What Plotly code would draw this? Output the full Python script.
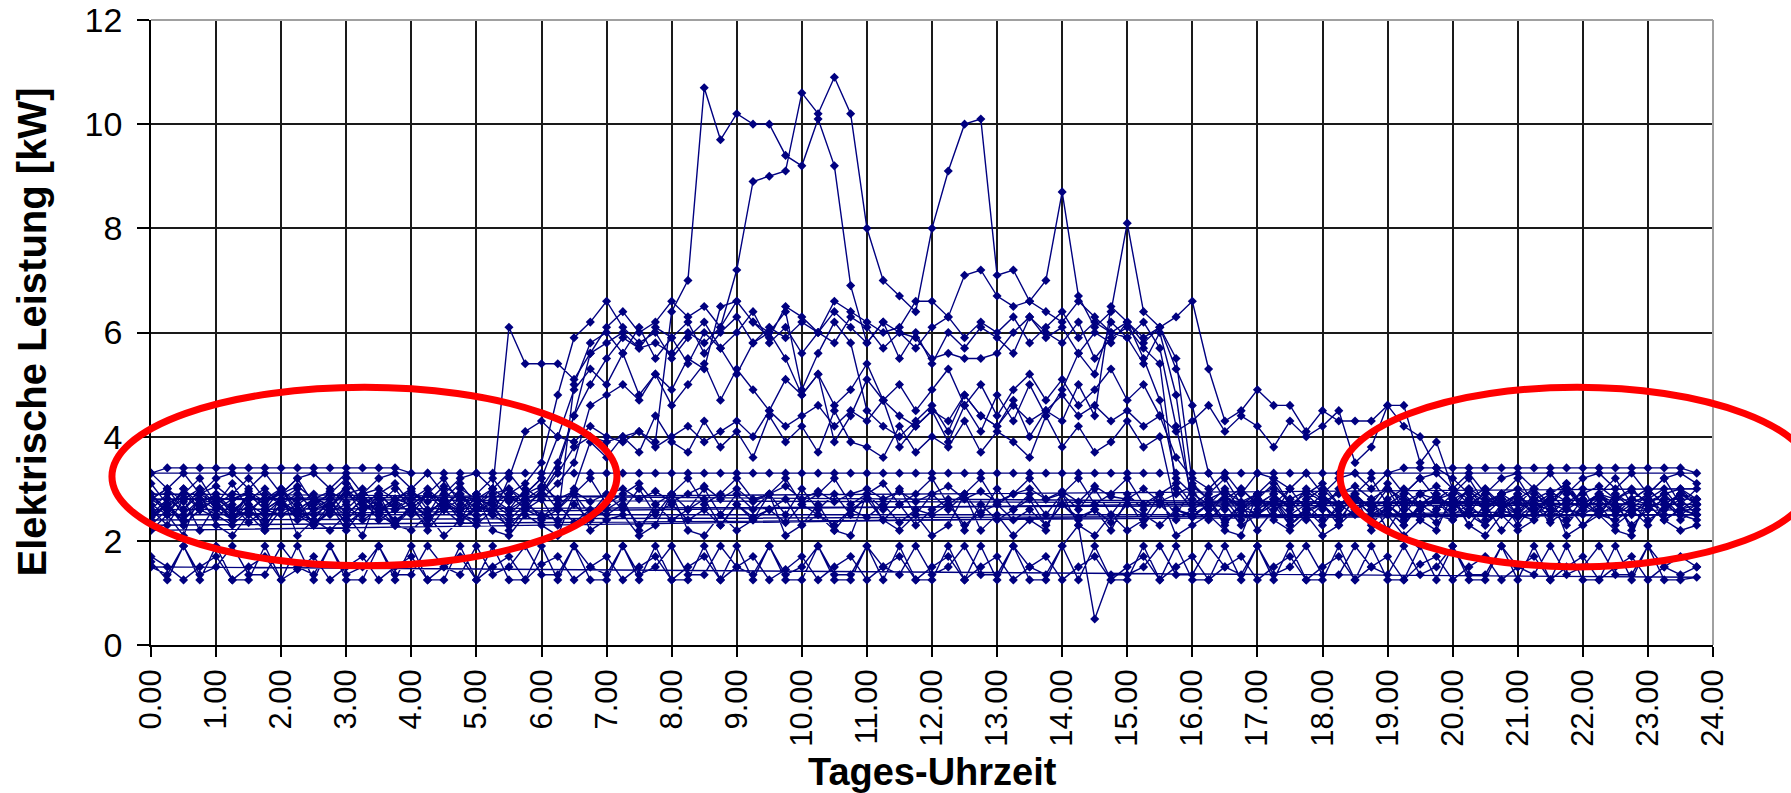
import plotly.graph_objects as go

# ---- x positions (15-minute steps) and axis tick labels ----
TIMES = [
    0.0, 0.25, 0.5, 0.75, 1.0, 1.25, 1.5, 1.75, 2.0, 2.25, 2.5, 2.75,
    3.0, 3.25, 3.5, 3.75, 4.0, 4.25, 4.5, 4.75, 5.0, 5.25, 5.5, 5.75,
    6.0, 6.25, 6.5, 6.75, 7.0, 7.25, 7.5, 7.75, 8.0, 8.25, 8.5, 8.75,
    9.0, 9.25, 9.5, 9.75, 10.0, 10.25, 10.5, 10.75, 11.0, 11.25, 11.5, 11.75,
    12.0, 12.25, 12.5, 12.75, 13.0, 13.25, 13.5, 13.75, 14.0, 14.25, 14.5, 14.75,
    15.0, 15.25, 15.5, 15.75, 16.0, 16.25, 16.5, 16.75, 17.0, 17.25, 17.5, 17.75,
    18.0, 18.25, 18.5, 18.75, 19.0, 19.25, 19.5, 19.75, 20.0, 20.25, 20.5, 20.75,
    21.0, 21.25, 21.5, 21.75, 22.0, 22.25, 22.5, 22.75, 23.0, 23.25, 23.5, 23.75,
]
X_TICKS = [0, 1, 2, 3, 4, 5, 6, 7, 8, 9, 10, 11, 12, 13, 14, 15, 16, 17, 18, 19, 20, 21, 22, 23, 24]
X_TICK_TEXT = ["0.00", "1.00", "2.00", "3.00", "4.00", "5.00", "6.00", "7.00", "8.00", "9.00",
               "10.00", "11.00", "12.00", "13.00", "14.00", "15.00", "16.00", "17.00", "18.00",
               "19.00", "20.00", "21.00", "22.00", "23.00", "24.00"]
Y_TICKS = [0, 2, 4, 6, 8, 10, 12]

# ---- daily load profiles [kW], 96 values each ----
L1 = [1.6,1.25,1.9,1.25, 1.9,1.25,1.25,1.9, 1.25,1.9,1.25,1.9, 1.25,1.25,1.9,1.25,
      1.9,1.25,1.25,1.9, 1.25,1.9,1.25,1.25, 1.9,1.25,1.9,1.25, 1.25,1.9,1.25,1.9,
      1.25,1.25,1.9,1.25, 1.9,1.25,1.9,1.25, 1.25,1.9,1.25,1.25, 1.9,1.25,1.9,1.25,
      1.25,1.9,1.25,1.9, 1.25,1.9,1.25,1.25, 1.9,1.25,1.9,1.25, 1.25,1.9,1.25,1.9,
      1.25,1.25,1.9,1.25, 1.9,1.25,1.9,1.25, 1.25,1.9,1.25,1.9, 1.25,1.25,1.9,1.25,
      1.9,1.25,1.25,1.9, 1.25,1.9,1.25,1.9, 1.25,1.25,1.9,1.25, 1.9,1.25,1.25,1.3]
L2 = [1.7,1.5,1.25,1.5, 1.7,1.25,1.5,1.7, 1.25,1.45,1.7,1.25, 1.5,1.7,1.25,1.5,
      1.7,1.25,1.5,1.7, 1.25,1.5,1.7,1.25, 1.55,1.7,1.25,1.5, 1.7,1.25,1.5,1.7,
      1.25,1.5,1.7,1.25, 1.5,1.7,1.25,1.45, 1.7,1.25,1.5,1.7, 1.25,1.5,1.7,1.25,
      1.5,1.7,1.25,1.5, 1.7,1.25,1.5,1.7, 1.25,1.5,1.7,1.25, 1.5,1.7,1.25,1.5,
      1.7,1.25,1.5,1.7, 1.25,1.5,1.7,1.25, 1.5,1.7,1.25,1.5, 1.7,1.25,1.55,1.7,
      1.25,1.5,1.7,1.25, 1.5,1.7,1.25,1.5, 1.7,1.25,1.5,1.7, 1.25,1.5,1.7,1.5]
L3 = [1.5,1.35,1.9,1.35, 1.5,1.9,1.35,1.35, 1.9,1.5,1.35,1.9, 1.35,1.5,1.9,1.35,
      1.35,1.9,1.5,1.35, 1.9,1.35,1.5,1.9, 1.35,1.35,1.9,1.5, 1.35,1.9,1.35,1.5,
      1.9,1.35,1.35,1.9, 1.5,1.35,1.9,1.35, 1.5,1.9,1.35,1.35, 1.9,1.5,1.35,1.9,
      1.35,1.5,1.9,1.35, 1.35,1.9,1.5,1.35, 1.9,2.3,0.5,1.35, 1.35,1.5,1.9,1.35,
      1.35,1.9,1.5,1.35, 1.9,1.35,1.5,1.9, 1.35,1.35,1.9,1.5, 1.35,1.9,1.35,1.5,
      1.9,1.35,1.35,1.9, 1.5,1.35,1.9,1.35, 1.5,1.9,1.35,1.35, 1.9,1.5,1.35,1.5]
B1 = [3.3,3.4,3.4,3.4, 3.4,3.4,3.4,3.4, 3.4,3.4,3.4,3.4, 3.4,3.4,3.4,3.4,
      3.3,3.3,3.3,3.3, 3.3,3.3,3.3,3.3, 3.3,3.3,3.3,3.3, 3.3,3.3,3.3,3.3,
      3.3,3.3,3.3,3.3, 3.3,3.3,3.3,3.3, 3.3,3.3,3.3,3.3, 3.3,3.3,3.3,3.3,
      3.3,3.3,3.3,3.3, 3.3,3.3,3.3,3.3, 3.3,3.3,3.3,3.3, 3.3,3.3,3.3,3.3,
      3.3,3.3,3.3,3.3, 3.3,3.3,3.3,3.3, 3.3,3.3,3.3,3.3, 3.3,3.4,3.4,3.4,
      3.4,3.4,3.4,3.4, 3.4,3.4,3.4,3.4, 3.4,3.4,3.4,3.4, 3.4,3.4,3.4,3.3]
B2 = [2.9,2.5,3.0,2.6, 2.9,2.5,2.9,2.6, 3.0,2.5,2.8,2.6, 3.0,2.5,2.9,2.6,
      2.9,2.5,3.0,2.6, 2.9,2.5,2.9,2.6, 3.0,2.6,2.9,2.5, 2.9,2.6,3.0,2.5,
      2.9,2.6,3.0,2.5, 2.9,2.6,2.9,2.5, 3.0,2.6,2.9,2.5, 2.9,2.6,3.0,2.5,
      2.9,2.6,2.9,2.5, 3.0,2.6,2.9,2.5, 2.9,2.6,3.0,2.5, 2.9,2.6,2.9,2.5,
      3.0,2.5,2.9,2.6, 2.9,2.5,3.0,2.6, 2.9,2.5,2.9,2.6, 3.0,2.5,2.9,2.6,
      2.9,2.5,3.0,2.6, 2.9,2.5,2.9,2.6, 3.0,2.5,2.9,2.6, 2.9,2.5,3.0,2.7]
B3 = [2.6,2.3,2.8,2.2, 2.7,2.4,2.8,2.2, 2.6,2.8,2.3,2.7, 2.2,2.6,2.8,2.3,
      2.7,2.2,2.6,2.8, 2.4,2.7,2.2,2.6, 2.8,2.3,2.7,2.4, 2.6,2.8,2.2,2.7,
      2.4,2.6,2.8,2.3, 2.7,2.4,2.6,2.8, 2.3,2.7,2.2,2.6, 2.8,2.4,2.7,2.3,
      2.6,2.8,2.2,2.7, 2.4,2.6,2.8,2.3, 2.7,2.4,2.6,2.2, 2.8,2.3,2.7,2.4,
      2.6,2.8,2.3,2.7, 2.2,2.6,2.8,2.4, 2.7,2.3,2.6,2.8, 2.2,2.7,2.4,2.6,
      2.8,2.3,2.7,2.2, 2.6,2.8,2.4,2.7, 2.3,2.6,2.8,2.2, 2.7,2.4,2.6,2.5]
B4 = [3.1,2.7,2.9,3.2, 2.7,2.9,3.2,2.8, 2.9,3.2,2.7,2.9, 3.2,2.7,2.9,3.1,
      2.7,2.9,3.2,2.7, 2.9,3.2,2.8,2.9, 3.2,2.7,2.9,3.2, 2.7,2.9,3.1,2.7,
      2.9,3.2,2.7,2.9, 3.2,2.8,2.9,3.2, 2.7,2.9,3.2,2.7, 2.9,3.1,2.7,2.9,
      3.2,2.7,2.9,3.2, 2.7,2.9,3.2,2.8, 2.9,3.2,2.7,2.9, 3.2,2.7,2.9,3.1,
      2.7,2.9,3.2,2.7, 2.9,3.2,2.7,2.9, 3.1,2.7,2.9,3.2, 2.7,2.9,3.2,2.8,
      2.9,3.2,2.7,2.9, 3.2,2.7,2.9,3.1, 2.7,2.9,3.2,2.7, 2.9,3.2,2.7,3.0]
B5 = [2.45,2.7,2.3,2.6, 2.45,2.7,2.35,2.6, 2.5,2.7,2.3,2.55, 2.7,2.4,2.6,2.3,
      2.7,2.45,2.6,2.35, 2.7,2.5,2.3,2.6, 2.45,2.7,2.35,2.6, 2.5,2.7,2.3,2.55,
      2.7,2.4,2.6,2.3, 2.7,2.45,2.6,2.35, 2.7,2.5,2.3,2.6, 2.45,2.7,2.35,2.6,
      2.5,2.7,2.3,2.55, 2.7,2.4,2.6,2.3, 2.7,2.45,2.6,2.35, 2.7,2.5,2.3,2.6,
      2.45,2.7,2.35,2.6, 2.5,2.7,2.3,2.55, 2.7,2.4,2.6,2.3, 2.7,2.45,2.6,2.35,
      2.7,2.5,2.3,2.6, 2.45,2.7,2.35,2.6, 2.5,2.7,2.3,2.55, 2.7,2.4,2.6,2.5]
B6 = [2.8,3.0,2.75,2.9, 3.05,2.8,2.95,2.75, 2.9,3.05,2.8,2.95, 2.75,2.9,3.0,2.8,
      2.95,2.75,3.05,2.85, 2.8,3.0,2.75,2.9, 3.05,2.8,2.95,2.75, 2.9,3.0,2.8,2.95,
      2.75,2.9,3.05,2.8, 3.0,2.75,2.9,3.05, 2.8,2.95,2.75,2.9, 3.0,2.8,2.95,2.75,
      2.9,3.05,2.8,2.95, 2.75,2.9,3.0,2.8, 2.95,2.75,3.05,2.85, 2.8,3.0,2.75,2.9,
      3.05,2.8,2.95,2.75, 2.9,3.0,2.8,2.95, 2.75,2.9,3.05,2.8, 3.0,2.75,2.9,3.05,
      2.8,2.95,2.75,2.9, 3.0,2.8,2.95,2.75, 2.9,3.05,2.8,2.95, 2.75,2.9,3.0,2.8]
B7 = [2.2,2.5,2.1,2.9, 2.3,2.1,2.5,2.2, 2.9,2.1,2.4,2.2, 2.5,2.1,2.9,2.3,
      2.2,2.5,2.1,2.4, 2.9,2.2,2.1,2.5, 2.3,2.1,2.9,2.2, 2.4,2.5,2.1,2.3,
      2.9,2.2,2.1,2.5, 2.2,2.4,2.9,2.1, 2.3,2.5,2.2,2.1, 2.9,2.4,2.2,2.5,
      2.1,2.3,2.9,2.2, 2.5,2.1,2.4,2.2, 2.9,2.3,2.1,2.5, 2.2,2.4,2.9,2.1,
      2.3,2.5,2.2,2.1, 2.9,2.4,2.2,2.5, 2.1,2.3,2.9,2.2, 2.5,2.1,2.4,2.2,
      2.9,2.3,2.1,2.5, 2.2,2.4,2.9,2.1, 2.3,2.5,2.2,2.1, 2.9,2.4,2.2,2.3]
D1 = [2.6,2.9,2.5,2.8, 2.7,2.4,2.9,2.6, 2.8,2.5,2.7,2.9, 2.5,2.8,2.6,2.7,
      2.9,2.5,2.8,2.6, 2.7,3.0,6.1,5.4, 5.4,5.4,5.1,5.6, 5.8,6.0,5.7,6.1,
      5.9,6.2,5.6,6.0, 6.3,5.8,6.1,5.9, 6.2,6.0,6.4,6.1, 5.8,6.2,6.0,5.7,
      6.1,6.3,5.9,6.2, 6.0,6.3,5.8,6.1, 6.4,5.9,6.2,6.0, 5.9,6.2,5.7,4.2,
      2.8,2.6,2.9,2.5, 2.8,2.7,3.0,2.6, 2.9,2.6,2.8,2.7, 2.5,2.9,2.6,2.8,
      2.7,3.0,2.6,2.9, 2.5,2.8,2.7,3.0, 2.6,2.9,2.5,2.8, 2.7,2.6,2.9,2.7]
D2 = [2.4,2.7,2.3,2.6, 2.8,2.4,2.6,2.3, 2.7,2.5,2.4,2.8, 2.3,2.6,2.7,2.4,
      2.6,2.3,2.8,2.5, 2.4,2.7,2.6,2.8, 2.9,3.3,3.8,4.0, 3.9,4.0,4.1,3.9,
      6.4,7.0,10.7,9.7, 10.2,10.0,10.0,9.4, 9.2,10.1,9.2,6.9, 5.8,6.2,5.5,6.0,
      5.4,6.0,5.7,6.1, 5.9,5.6,6.3,6.0, 5.8,6.2,5.5,5.9, 6.1,5.7,5.4,3.0,
      2.6,2.8,2.4,2.7, 2.5,2.8,2.3,2.6, 2.7,2.4,2.8,2.5, 2.6,2.3,2.7,2.8,
      2.4,2.6,2.5,2.8, 2.3,2.7,2.6,2.4, 2.8,2.5,2.7,2.3, 2.6,2.8,2.4,2.6]
D3 = [2.8,3.0,2.6,2.9, 2.7,3.1,2.6,2.8, 3.0,2.7,2.9,2.6, 3.1,2.8,2.7,3.0,
      2.6,2.9,2.8,3.1, 2.7,2.9,3.0,2.8, 3.0,3.5,4.4,5.0, 5.5,5.9,5.7,5.8,
      5.6,6.0,5.8,6.1, 7.2,8.9,9.0,9.1, 10.6,10.2,10.9,10.2, 8.0,7.0,6.7,6.4,
      8.0,9.1,10.0,10.1, 7.1,7.2,6.6,6.4, 6.2,6.6,6.3,6.0, 6.2,5.5,4.7,3.2,
      2.9,2.7,3.0,2.6, 2.8,3.1,2.7,2.9, 2.6,3.0,2.8,2.7, 3.1,2.6,2.9,2.8,
      3.0,2.7,2.9,2.6, 2.8,3.0,2.7,3.1, 2.6,2.9,2.8,3.0, 2.7,2.9,2.6,2.8]
D4 = [2.5,2.8,2.6,3.0, 2.7,2.5,2.9,2.6, 2.8,3.0,2.5,2.7, 2.6,2.9,2.5,2.8,
      3.0,2.6,2.7,2.9, 2.5,2.8,2.6,3.0, 2.8,3.1,3.5,4.6, 4.8,5.0,4.7,5.2,
      4.9,5.5,5.3,6.5, 6.6,6.2,5.9,6.5, 6.3,6.0,6.6,6.4, 6.2,6.0,6.1,6.6,
      6.6,6.3,7.1,7.2, 6.7,6.5,6.6,7.0, 8.7,6.7,6.1,6.4, 8.1,6.4,6.1,6.3,
      6.6,5.3,4.3,4.5, 4.9,4.6,4.6,4.1, 4.5,4.3,4.3,4.3, 4.6,4.6,3.5,3.9,
      3.0,2.8,2.6,2.9, 2.7,3.0,2.5,2.8, 2.6,2.9,2.7,2.5, 2.8,3.0,2.6,2.7]
D5 = [2.7,2.5,2.9,2.6, 2.8,2.6,2.5,2.9, 2.7,2.6,2.8,2.5, 2.9,2.7,2.6,2.8,
      2.5,2.9,2.7,2.6, 2.8,2.5,3.2,4.1, 4.3,4.0,3.9,4.2, 4.0,3.9,4.1,3.8,
      4.0,4.2,3.9,4.1, 4.3,4.0,4.5,4.2, 4.4,4.6,4.2,4.5, 4.3,4.7,4.4,4.2,
      4.5,4.3,4.8,4.4, 4.2,4.6,4.3,4.5, 4.8,4.4,4.6,4.3, 4.5,4.2,4.4,4.1,
      4.3,4.6,4.1,4.4, 4.2,3.8,4.3,4.0, 4.2,4.5,3.5,3.8, 4.6,4.2,4.0,3.4,
      3.2,2.9,2.6,2.8, 2.5,2.9,2.7,2.6, 2.8,2.5,2.9,2.7, 2.6,2.8,2.5,2.7]
D6 = [2.9,2.6,2.8,3.0, 2.6,2.8,2.9,2.7, 3.0,2.6,2.8,2.7, 2.9,3.0,2.6,2.8,
      2.7,2.9,2.6,3.0, 2.8,2.7,2.9,3.1, 3.5,4.8,5.9,6.2, 6.6,6.1,5.8,6.0,
      5.5,5.9,6.2,5.7, 6.0,6.4,5.8,6.1, 5.6,6.0,5.8,6.3, 6.1,5.7,6.0,5.9,
      5.5,5.6,5.5,5.5, 5.6,6.0,6.3,5.9, 6.1,5.6,6.0,5.8, 6.2,5.9,6.1,5.3,
      4.6,3.3,2.8,3.0, 2.7,2.9,2.6,3.0, 2.8,2.7,2.9,2.6, 3.0,2.8,2.7,2.9,
      2.6,3.0,2.8,2.7, 2.9,2.6,2.8,3.0, 2.7,2.9,2.6,2.8, 3.0,2.7,2.9,2.8]
D7 = [3.3,3.0,3.3,2.9, 3.2,3.3,3.0,3.3, 2.9,3.2,3.3,3.0, 3.3,2.9,3.2,3.3,
      3.0,3.3,2.9,3.2, 3.3,3.0,3.3,2.9, 3.2,4.0,4.9,5.3, 5.0,5.6,4.8,5.2,
      4.6,5.0,5.4,4.7, 5.3,4.9,4.5,5.1, 4.8,5.2,4.6,4.9, 5.4,4.7,5.0,4.5,
      4.9,5.3,4.6,5.0, 4.4,4.9,5.2,4.7, 5.1,4.6,4.9,5.3, 4.7,5.0,4.4,3.6,
      3.2,3.0,3.3,2.9, 3.3,3.2,3.0,3.3, 2.9,3.2,3.3,3.0, 3.3,2.9,3.2,3.3,
      3.0,3.3,2.9,3.2, 3.3,3.0,3.3,2.9, 3.2,3.3,3.0,3.3, 2.9,3.2,3.3,3.1]
D8 = [2.5,2.7,2.4,2.8, 2.6,2.4,2.7,2.5, 2.8,2.4,2.6,2.7, 2.5,2.8,2.4,2.6,
      2.7,2.5,2.8,2.4, 2.6,2.7,2.5,2.8, 2.4,2.6,3.0,3.9, 3.6,4.0,3.7,4.4,
      3.9,3.7,4.3,3.8, 4.1,3.6,4.4,3.9, 4.2,3.7,4.5,3.9, 3.8,3.6,4.2,3.7,
      4.0,3.8,4.3,3.7, 4.1,3.9,3.6,4.4, 3.8,4.2,3.7,3.9, 4.3,3.8,4.0,2.6,
      2.5,2.7,2.8,2.4, 2.6,2.8,2.5,2.7, 2.4,2.6,2.8,2.5, 2.7,2.4,2.6,2.8,
      2.5,2.7,2.4,2.6, 2.8,2.5,2.7,2.4, 2.6,2.8,2.5,2.7, 2.4,2.6,2.8,2.5]
D9 = [2.8,2.6,3.0,2.7, 2.9,2.6,2.8,3.0, 2.7,2.9,2.6,2.8, 3.0,2.7,2.9,2.6,
      2.8,3.0,2.7,2.9, 2.6,2.8,3.0,2.7, 2.9,3.4,4.4,5.6, 6.1,6.4,6.0,6.2,
      6.6,6.3,6.5,6.1, 6.6,6.2,6.0,6.4, 4.9,5.6,6.2,5.8, 4.5,4.2,4.0,4.3,
      4.6,4.1,4.8,4.4, 4.2,4.7,4.0,4.5, 4.3,5.0,4.4,6.5, 6.2,5.8,6.1,5.5,
      3.1,2.8,2.6,3.0, 2.7,2.9,2.6,2.8, 3.0,2.7,2.9,2.6, 2.8,3.0,2.7,2.9,
      2.6,2.8,3.0,2.7, 2.9,2.6,2.8,3.0, 2.7,2.9,2.6,2.8, 3.0,2.7,2.9,2.7]
D10 = [2.3,2.6,2.4,2.7, 2.5,2.3,2.6,2.4, 2.7,2.5,2.3,2.6, 2.4,2.7,2.5,2.3,
       2.6,2.4,2.7,2.5, 2.3,2.6,2.4,2.7, 2.5,2.4,5.0,5.8, 6.0,5.6,6.1,5.5,
       5.9,5.4,6.0,5.7, 5.2,5.8,6.0,5.5, 4.8,5.2,3.9,4.4, 5.1,4.7,3.8,4.2,
       4.5,3.9,4.6,4.1, 4.8,4.3,5.0,4.4, 4.9,5.6,5.2,6.2, 5.9,5.4,6.0,4.8,
       2.6,2.4,2.7,2.3, 2.5,2.8,2.4,2.6, 2.3,2.7,2.5,2.4, 2.6,2.3,2.7,2.5,
       2.4,2.6,2.3,2.7, 2.5,2.4,2.6,2.3, 2.7,2.5,2.4,2.6, 2.3,2.7,2.5,2.4]

# consecutive measuring days plotted as one line each (wraps from 23:45 back to 0:00)
SERIES = [
    [L1, L3],
    [L2],
    [B1, D7],
    [B2, D1, D6],
    [B3, D2, B7],
    [B4, D3],
    [B5, D8, D10],
    [B6, D4, D9],
    [D5],
]

NAVY = "#000080"
FONT = "Arial, Liberation Sans, Helvetica, sans-serif"

fig = go.Figure()
for days in SERIES:
    xs, ys = [], []
    for day in days:
        n = min(len(day), len(TIMES))
        xs.extend(TIMES[:n])
        ys.extend(day[:n])
    fig.add_trace(go.Scatter(
        x=xs, y=ys, mode="lines+markers",
        line=dict(color=NAVY, width=1.4),
        marker=dict(symbol="diamond", size=7, color=NAVY),
        showlegend=False, hoverinfo="x+y",
    ))

fig.update_layout(
    width=1791, height=793,
    margin=dict(l=151, r=78, t=20, b=148),
    paper_bgcolor="white", plot_bgcolor="white",
    font=dict(family=FONT, color="black"),
    showlegend=False,
    xaxis=dict(
        range=[0, 24], tickmode="array", tickvals=X_TICKS, ticktext=X_TICK_TEXT,
        tickangle=-90, tickfont=dict(size=31, family=FONT, color="black"),
        showgrid=True, gridcolor="#1a1a1a", gridwidth=1.6,
        showline=True, linecolor="black", linewidth=1.6,
        ticks="outside", ticklen=10, tickcolor="black", tickwidth=1.6,
        zeroline=False, automargin=False, ticklabeloverflow="allow",
    ),
    yaxis=dict(
        range=[0, 12], tickmode="array", tickvals=Y_TICKS,
        tickfont=dict(size=34, family=FONT, color="black"),
        showgrid=True, gridcolor="#1a1a1a", gridwidth=1.6,
        showline=True, linecolor="black", linewidth=1.6,
        ticks="outside", ticklen=12, tickcolor="black", tickwidth=1.6,
        ticklabelstandoff=8,
        zeroline=False, automargin=False, ticklabeloverflow="allow",
    ),
    shapes=[
        dict(type="line", xref="paper", yref="paper", x0=0, x1=1, y0=1, y1=1,
             line=dict(color="#a0a0a0", width=2), layer="above"),
        dict(type="line", xref="paper", yref="paper", x0=1, x1=1, y0=0, y1=1,
             line=dict(color="#a0a0a0", width=2), layer="above"),
        dict(type="circle", xref="paper", yref="paper",
             x0=-0.025, x1=0.2983, y0=0.1267, y1=0.4125,
             line=dict(color="#ff0000", width=7), layer="above"),
        dict(type="circle", xref="paper", yref="paper",
             x0=0.7613, x1=1.0646, y0=0.125, y1=0.4125,
             line=dict(color="#ff0000", width=7), layer="above"),
    ],
    annotations=[
        dict(text="<b>Tages-Uhrzeit</b>", xref="paper", yref="paper", x=0.5, y=-0.203,
             xanchor="center", yanchor="middle", showarrow=False,
             font=dict(size=38, family=FONT, color="black")),
        dict(text="<b>Elektrische Leistung [kW]</b>", xref="paper", yref="paper",
             x=-0.0768, y=0.5, xanchor="center", yanchor="middle", textangle=-90,
             showarrow=False, font=dict(size=40, family=FONT, color="black")),
    ],
)

# remove the default page margin so the figure sits at the window's top-left corner
fig.write_html("out.html", config={"displayModeBar": False},
               post_script="document.body.style.margin='0px';")
